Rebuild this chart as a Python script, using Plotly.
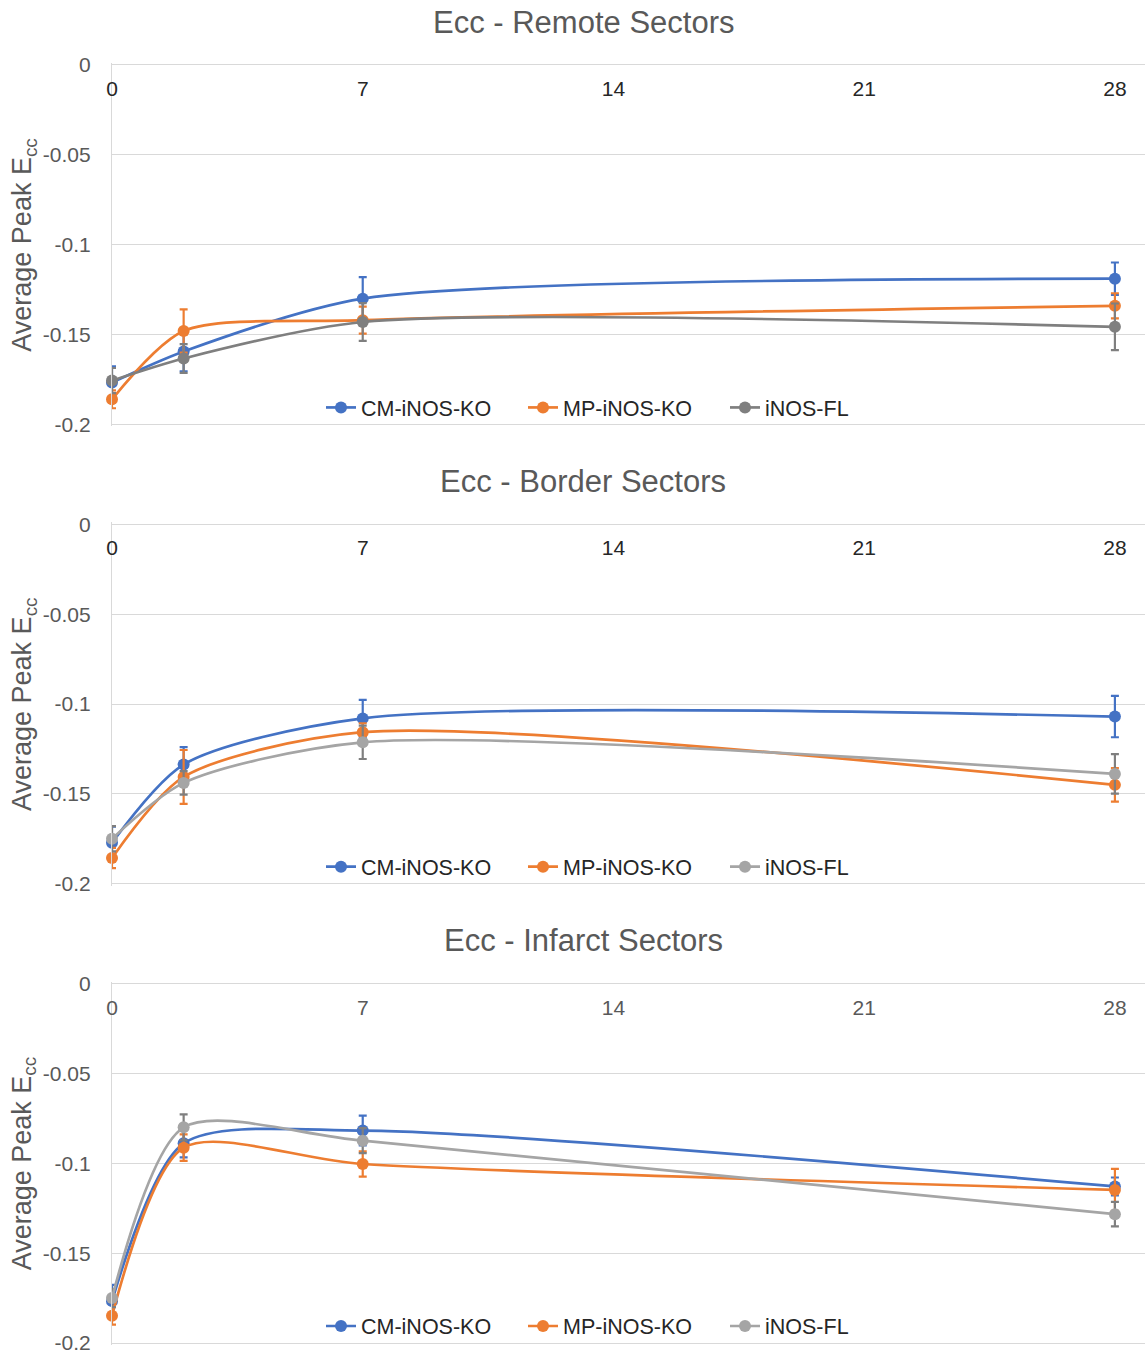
import plotly.graph_objects as go

days = [0, 2, 7, 28]
x_ticks = [0, 7, 14, 21, 28]
y_tickvals = [0, -0.05, -0.1, -0.15, -0.2]
y_ticktext = ["0", "-0.05", "-0.1", "-0.15", "-0.2"]
series_names = ["CM-iNOS-KO", "MP-iNOS-KO", "iNOS-FL"]
panel_titles = ["Ecc - Remote Sectors", "Ecc - Border Sectors", "Ecc - Infarct Sectors"]

# Remote
remote_cm = [-0.1767, -0.1594, -0.1300, -0.1189]
remote_cm_err = [0.009, 0.011, 0.012, 0.009]
remote_mp = [-0.1860, -0.1480, -0.1420, -0.1340]
remote_mp_err = [0.005, 0.012, 0.0075, 0.007]
remote_fl = [-0.1756, -0.1633, -0.1430, -0.1457]
remote_fl_err = [0.007, 0.008, 0.0105, 0.013]

# Border
border_cm = [-0.1772, -0.1337, -0.1080, -0.1070]
border_cm_err = [0.009, 0.0097, 0.0103, 0.0115]
border_mp = [-0.1857, -0.1406, -0.1157, -0.1450]
border_mp_err = [0.0056, 0.015, 0.005, 0.0093]
border_fl = [-0.1750, -0.1439, -0.1213, -0.1389]
border_fl_err = [0.007, 0.0065, 0.0093, 0.011]

# Infarct
infarct_cm = [-0.1767, -0.0889, -0.0818, -0.1129]
infarct_cm_err = [0.009, 0.0078, 0.0083, 0.005]
infarct_mp = [-0.1848, -0.0913, -0.1004, -0.1148]
infarct_mp_err = [0.005, 0.0074, 0.007, 0.0117]
infarct_fl = [-0.1750, -0.0800, -0.0874, -0.1283]
infarct_fl_err = [0.005, 0.0072, 0.007, 0.0068]

panels = [
    [(remote_cm, remote_cm_err), (remote_mp, remote_mp_err), (remote_fl, remote_fl_err)],
    [(border_cm, border_cm_err), (border_mp, border_mp_err), (border_fl, border_fl_err)],
    [(infarct_cm, infarct_cm_err), (infarct_mp, infarct_mp_err), (infarct_fl, infarct_fl_err)],
]

BLUE = "#4472C4"
ORANGE = "#ED7D31"
line_colors = [
    [BLUE, ORANGE, "#7F7F7F"],
    [BLUE, ORANGE, "#A5A5A5"],
    [BLUE, ORANGE, "#A5A5A5"],
]
err_colors = [
    [BLUE, ORANGE, "#7F7F7F"],
    [BLUE, ORANGE, "#7F7F7F"],
    [BLUE, ORANGE, "#7F7F7F"],
]

FONT = "Liberation Sans, Arial, sans-serif"
W, H = 1145, 1357
ML, MR, MT, MB = 112, 0, 60, 8
PH = H - MT - MB
PW = W - ML - MR

def py(pix):
    return (H - MB - pix) / PH

def px(pix):
    return (pix - ML) / PW

panel_tops = [65, 525, 985]
panel_h = 360
Y_SPAN = 0.2
PAD_PX = 1.8  # keep the 0 and -0.2 grid lines just inside the plot area
pad_val = PAD_PX * Y_SPAN / panel_h

fig = go.Figure()
layout = dict(
    width=W, height=H, autosize=False,
    margin=dict(l=ML, r=MR, t=MT, b=MB),
    paper_bgcolor="white", plot_bgcolor="white",
    font=dict(family=FONT, color="#595959"),
    showlegend=True,
)
annotations = []
xtick_colors = ["#262626", "#262626", "#595959"]

for p in range(3):
    sfx = "" if p == 0 else str(p + 1)
    legend_name = "legend" + sfx
    for s in range(3):
        vals, errs = panels[p][s]
        fig.add_trace(go.Scatter(
            x=days, y=vals,
            mode="lines+markers",
            name=series_names[s],
            line=dict(color=line_colors[p][s], width=2.7, shape="spline", smoothing=0.75),
            marker=dict(color=line_colors[p][s], size=12),
            error_y=dict(type="data", array=errs, symmetric=True,
                         color=err_colors[p][s], thickness=2.2, width=4),
            xaxis="x" + sfx, yaxis="y" + sfx,
            legend=legend_name,
            cliponaxis=False,
        ))
    top = panel_tops[p]
    bottom = top + panel_h
    layout["xaxis" + sfx] = dict(
        domain=[0, 1], anchor="free", position=py(top + 9), side="bottom",
        range=[0, 28.84], tickvals=x_ticks, ticktext=[str(t) for t in x_ticks],
        showgrid=False, zeroline=False, showline=False,
        ticks="",
        tickfont=dict(size=21, color=xtick_colors[p], family=FONT),
        fixedrange=True,
    )
    layout["yaxis" + sfx] = dict(
        domain=[py(bottom + PAD_PX), py(top - PAD_PX)], anchor="x" + sfx,
        range=[-Y_SPAN - pad_val, pad_val], tickvals=y_tickvals, ticktext=y_ticktext,
        showgrid=True, gridcolor="#D9D9D9", gridwidth=1.3,
        zeroline=False, showline=True, linecolor="#D9D9D9", linewidth=1.3,
        ticks="", ticklabelstandoff=16,
        tickfont=dict(size=21, color="#595959", family=FONT),
        fixedrange=True,
    )
    layout[legend_name] = dict(
        orientation="h", x=px(321), xanchor="left",
        y=py(top + 343), yanchor="middle",
        bgcolor="rgba(0,0,0,0)",
        font=dict(size=21.5, color="#262626", family=FONT),
        entrywidth=157, entrywidthmode="pixels",
        itemclick=False, itemdoubleclick=False,
    )
    annotations.append(dict(
        text=panel_titles[p], xref="paper", yref="paper",
        x=px(583), y=py(top - 43), xanchor="center", yanchor="middle",
        showarrow=False, font=dict(size=31, color="#595959", family=FONT),
    ))
    annotations.append(dict(
        text="Average Peak E<sub>cc</sub>", xref="paper", yref="paper",
        x=px(24), y=py(top + 180), xanchor="center", yanchor="middle",
        textangle=-90, showarrow=False,
        font=dict(size=27, color="#595959", family=FONT),
    ))

layout["annotations"] = annotations
fig.update_layout(**layout)
fig.write_html(
    "out.html",
    config={"displayModeBar": False},
    post_script="document.body.style.margin='0px';document.body.style.padding='0px';",
)
